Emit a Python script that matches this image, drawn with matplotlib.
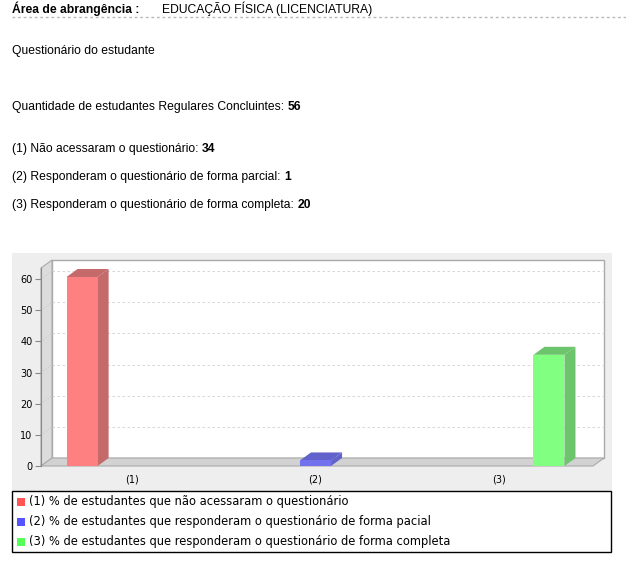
import matplotlib
matplotlib.use('Agg')
import matplotlib.pyplot as plt
from matplotlib.patches import Rectangle, Polygon
from matplotlib.lines import Line2D

# data
total = 56
counts = [34, 1, 20]
count_labels = ['(1) Não acessaram o questionário: ',
                '(2) Responderam o questionário de forma parcial: ',
                '(3) Responderam o questionário de forma completa: ']
categories = ['(1)', '(2)', '(3)']
percent = [100.0 * c / total for c in counts]
legend_labels = ['(1) % de estudantes que não acessaram o questionário',
                 '(2) % de estudantes que responderam o questionário de forma pacial',
                 '(3) % de estudantes que responderam o questionário de forma completa']
yticks = [0, 10, 20, 30, 40, 50, 60]

front_colors = ['#ff8080', '#7272ee', '#80ff80']
dark_colors = ['#c46a6a', '#6262cc', '#6cc46c']

W, H = 626, 561
fig = plt.figure(figsize=(W / 100, H / 100), dpi=100)
fig.patch.set_facecolor('white')

def fx(px):
    return px / W

def fy(py):
    return 1 - py / H

# header texts
html_font = 'Liberation Sans'
fs = 8.75
fig.text(fx(12), fy(9), 'Área de abrangência :', fontsize=fs, weight='bold',
         family=html_font, va='center')
fig.text(fx(162), fy(9), 'EDUCAÇÃO FÍSICA (LICENCIATURA)', fontsize=fs,
         family=html_font, va='center')
fig.add_artist(Line2D([fx(12), fx(626)], [fy(17), fy(17)], color='#b8b8b8',
                      lw=1, ls=(0, (2, 2))))
fig.text(fx(12), fy(51), 'Questionário do estudante', fontsize=fs,
         family=html_font, va='center')

def label_value(py, label, value):
    t = fig.text(fx(12), fy(py), label, fontsize=fs, family=html_font, va='center')
    fig.canvas.draw()
    bb = t.get_window_extent()
    fig.text(bb.x1 / W, fy(py), str(value), fontsize=fs, family=html_font,
             weight='bold', va='center')

label_value(107, 'Quantidade de estudantes Regulares Concluintes: ', total)
for py, lab, c in zip([149, 177, 205], count_labels, counts):
    label_value(py, lab, c)

# chart panel background
fig.add_artist(Rectangle((fx(12), fy(491)), fx(612) - fx(12), fy(253) - fy(491),
                         transform=fig.transFigure, facecolor='#eeeeee',
                         edgecolor='none', zorder=0))

# front plane of the 3D plot
left, right, bottom, top = 41, 593, 466, 268
ax = fig.add_axes([fx(left), fy(bottom), (right - left) / W, (bottom - top) / H])
xmin, xmax = -0.496, 2.512
ymax = 63.6
ax.set_xlim(xmin, xmax)
ax.set_ylim(0, ymax)
ax.patch.set_visible(False)
for s in ['top', 'right', 'bottom']:
    ax.spines[s].set_visible(False)
ax.spines['left'].set_color('#888888')
ax.spines['left'].set_linewidth(0.8)

# depth offset in data units (11 px right, 8 px up)
ddx = 11 * (xmax - xmin) / (right - left)
ddy = 8 * ymax / (bottom - top)

# back wall
ax.add_patch(Rectangle((xmin + ddx, ddy), xmax - xmin, ymax, facecolor='white',
                       edgecolor='#aaaaaa', lw=1, zorder=1, clip_on=False))
# left wall
ax.add_patch(Polygon([(xmin, 0), (xmin + ddx, ddy), (xmin + ddx, ymax + ddy),
                      (xmin, ymax)], closed=True, facecolor='#dcdcdc',
                     edgecolor='#aaaaaa', lw=0.8, zorder=1, clip_on=False))
# floor
ax.add_patch(Polygon([(xmin, 0), (xmax, 0), (xmax + ddx, ddy), (xmin + ddx, ddy)],
                     closed=True, facecolor='#d2d2d2', edgecolor='#aaaaaa',
                     lw=0.8, zorder=1, clip_on=False))

# gridlines on the back wall
for v in yticks[1:]:
    ax.plot([xmin + ddx, xmax + ddx], [v + ddy, v + ddy], color='#d0d0d0',
            lw=0.6, ls=(0, (3, 3)), zorder=2, clip_on=False)
    ax.plot([xmin, xmin + ddx], [v, v + ddy], color='#c8c8c8',
            lw=0.5, ls=(0, (2, 2)), zorder=2, clip_on=False)

# bars
bw = 0.169
offset = 0.272
for i, v in enumerate(percent):
    x = i + (i - 1) * offset
    ax.bar(x, v, bw, color=front_colors[i], zorder=4, clip_on=False)
    x0, x1 = x - bw / 2, x + bw / 2
    ax.add_patch(Polygon([(x1, 0), (x1 + ddx, ddy), (x1 + ddx, v + ddy), (x1, v)],
                         closed=True, facecolor=dark_colors[i], edgecolor='none',
                         zorder=3, clip_on=False))
    ax.add_patch(Polygon([(x0, v), (x1, v), (x1 + ddx, v + ddy), (x0 + ddx, v + ddy)],
                         closed=True, facecolor=dark_colors[i], edgecolor='none',
                         zorder=3, clip_on=False))

ax.set_yticks(yticks)
ax.set_yticklabels([str(t) for t in yticks], fontsize=7, family='DejaVu Sans')
ax.tick_params(axis='y', length=4, width=0.8, color='#888888', pad=2)
ax.set_xticks(range(len(categories)))
ax.set_xticklabels(categories, fontsize=7, family='DejaVu Sans')
ax.tick_params(axis='x', length=0, pad=6)

# legend box
fig.add_artist(Rectangle((fx(12), fy(552)), fx(611) - fx(12), fy(491) - fy(552),
                         transform=fig.transFigure, facecolor='white',
                         edgecolor='black', lw=1, zorder=1))
for py, lab, col in zip([502, 522, 542], legend_labels, ['#ff5555', '#5555ff', '#55ff55']):
    fig.add_artist(Rectangle((fx(17), fy(py + 4)), 8 / W, 8 / H,
                             transform=fig.transFigure, facecolor=col,
                             edgecolor='none', zorder=2))
    fig.text(fx(29), fy(py), lab, fontsize=8.3, family='DejaVu Sans',
             va='center', zorder=3)

fig.savefig('out.png', dpi=100)
